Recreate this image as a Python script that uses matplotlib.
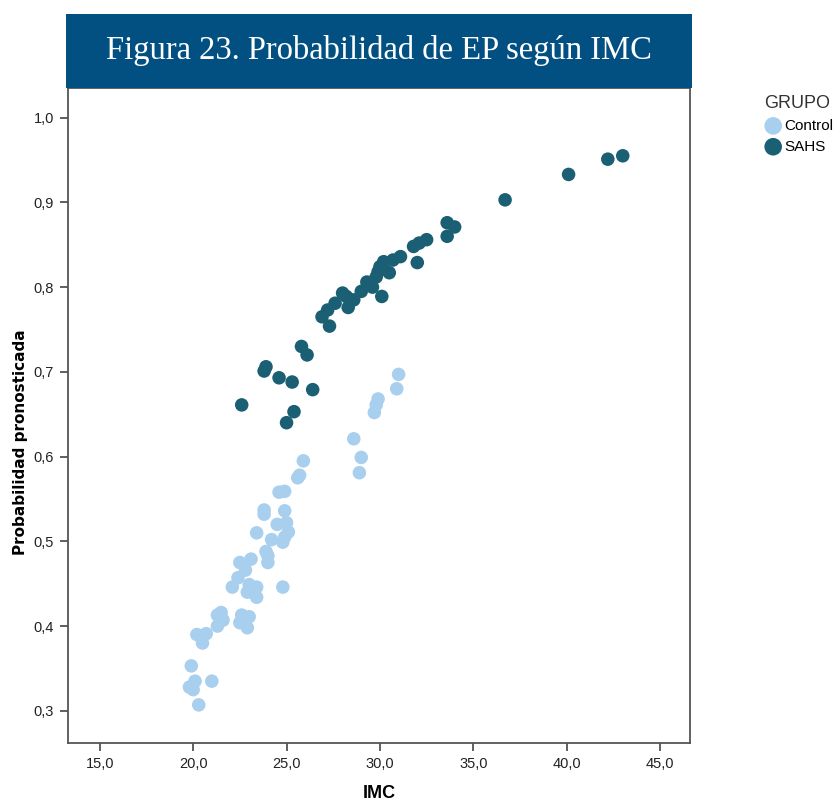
import matplotlib
matplotlib.use("Agg")
import matplotlib.pyplot as plt
from matplotlib.patches import Rectangle
from matplotlib.ticker import FuncFormatter

# ---- data ----
control_imc = [31.0, 30.9, 29.9, 29.8, 29.7, 28.6, 29.0, 28.9,
               25.9, 25.7, 25.6, 24.6, 24.9, 23.8, 23.8, 24.9,
               24.5, 25.0, 25.1, 24.9, 24.8, 23.4, 24.2, 23.9, 24.0, 24.0,
               23.1, 22.5, 22.8, 22.4, 22.1, 23.0, 23.4, 22.9, 23.4, 24.8,
               21.3, 21.5, 21.6, 21.3, 22.6, 23.0, 22.5, 22.9,
               20.2, 20.7, 20.5, 19.9, 20.1, 19.8, 20.0, 21.0, 20.3]
control_prob = [0.697, 0.680, 0.668, 0.661, 0.652, 0.621, 0.599, 0.581,
                0.595, 0.578, 0.575, 0.558, 0.559, 0.537, 0.532, 0.536,
                0.520, 0.522, 0.511, 0.505, 0.499, 0.510, 0.502, 0.488, 0.483, 0.475,
                0.479, 0.475, 0.466, 0.457, 0.446, 0.449, 0.446, 0.440, 0.434, 0.446,
                0.413, 0.416, 0.407, 0.400, 0.413, 0.411, 0.404, 0.398,
                0.390, 0.391, 0.380, 0.353, 0.335, 0.328, 0.325, 0.335, 0.307]

sahs_imc = [43.0, 42.2, 40.1, 36.7, 33.6, 34.0, 33.6, 32.5, 32.1, 31.8,
            32.0, 31.1, 30.7, 30.2, 30.0, 30.5, 29.9, 29.8, 29.3, 29.6,
            29.0, 30.1, 28.6, 28.0, 28.2, 28.3, 27.6, 27.2, 26.9, 27.3,
            25.8, 26.1, 23.9, 23.8, 24.6, 25.3, 26.4, 22.6, 25.4, 25.0]
sahs_prob = [0.955, 0.951, 0.933, 0.903, 0.876, 0.871, 0.860, 0.856, 0.852, 0.848,
             0.829, 0.836, 0.832, 0.830, 0.824, 0.817, 0.818, 0.812, 0.806, 0.800,
             0.795, 0.789, 0.785, 0.793, 0.789, 0.776, 0.781, 0.773, 0.765, 0.754,
             0.730, 0.720, 0.706, 0.701, 0.693, 0.688, 0.679, 0.661, 0.653, 0.640]

x_ticks = [15, 20, 25, 30, 35, 40, 45]
y_ticks = [0.3, 0.4, 0.5, 0.6, 0.7, 0.8, 0.9, 1.0]

title = "Figura 23. Probabilidad de EP según IMC"
col_control = "#a9cfee"
col_sahs = "#1b5f74"

plt.rcParams['font.family'] = ['Liberation Sans', 'DejaVu Sans']

fig = plt.figure(figsize=(8.39, 8.07), dpi=100)
ax = fig.add_axes([68/839, 64/807, (690-68)/839, (743-88)/807])

ax.scatter(control_imc, control_prob, s=95, color=col_control, edgecolors='none',
           label="Control", zorder=3)
ax.scatter(sahs_imc, sahs_prob, s=95, color=col_sahs, edgecolors='none',
           label="SAHS", zorder=3)

ax.set_xlim(13.3, 46.6)
ax.set_ylim(0.262, 1.035)
ax.set_xticks(x_ticks)
ax.set_yticks(y_ticks)
ax.xaxis.set_major_formatter(FuncFormatter(lambda v, p: f"{v:.1f}".replace('.', ',')))
ax.yaxis.set_major_formatter(FuncFormatter(lambda v, p: f"{v:.1f}".replace('.', ',')))
ax.tick_params(axis='both', direction='out', length=6, width=1.2, color='#444444',
               labelsize=10.5, labelcolor='#222222', pad=4)
for s in ax.spines.values():
    s.set_color('#555555')
    s.set_linewidth(1.3)

ax.set_xlabel("IMC", fontsize=13, fontweight='bold', labelpad=10)
ax.set_ylabel("Probabilidad pronosticada", fontsize=11, fontweight='bold',
              family=['DejaVu Sans'])
ax.yaxis.set_label_coords(-0.064, 0.46)

# legend
leg = fig.legend(loc='upper left', bbox_to_anchor=(764/839, 1 - 95/807), title="GRUPO",
                 frameon=False, fontsize=11, title_fontsize=13, handletextpad=0.15,
                 borderaxespad=0, labelspacing=0.45, markerscale=1.3, borderpad=0,
                 handlelength=1.2, alignment='left')
leg.get_title().set_color('#333333')

# title bar
fig.patches.append(Rectangle((66/839, 1 - 88/807), (692-66)/839, (88-14)/807,
                             transform=fig.transFigure, facecolor='#024f81',
                             edgecolor='none', zorder=5))
fig.text(379/839, 1 - 51/807, title, ha='center', va='center', color='white',
         fontsize=23.5, family=['Liberation Serif', 'DejaVu Serif'], zorder=6)

fig.savefig("out.png", dpi=100)
